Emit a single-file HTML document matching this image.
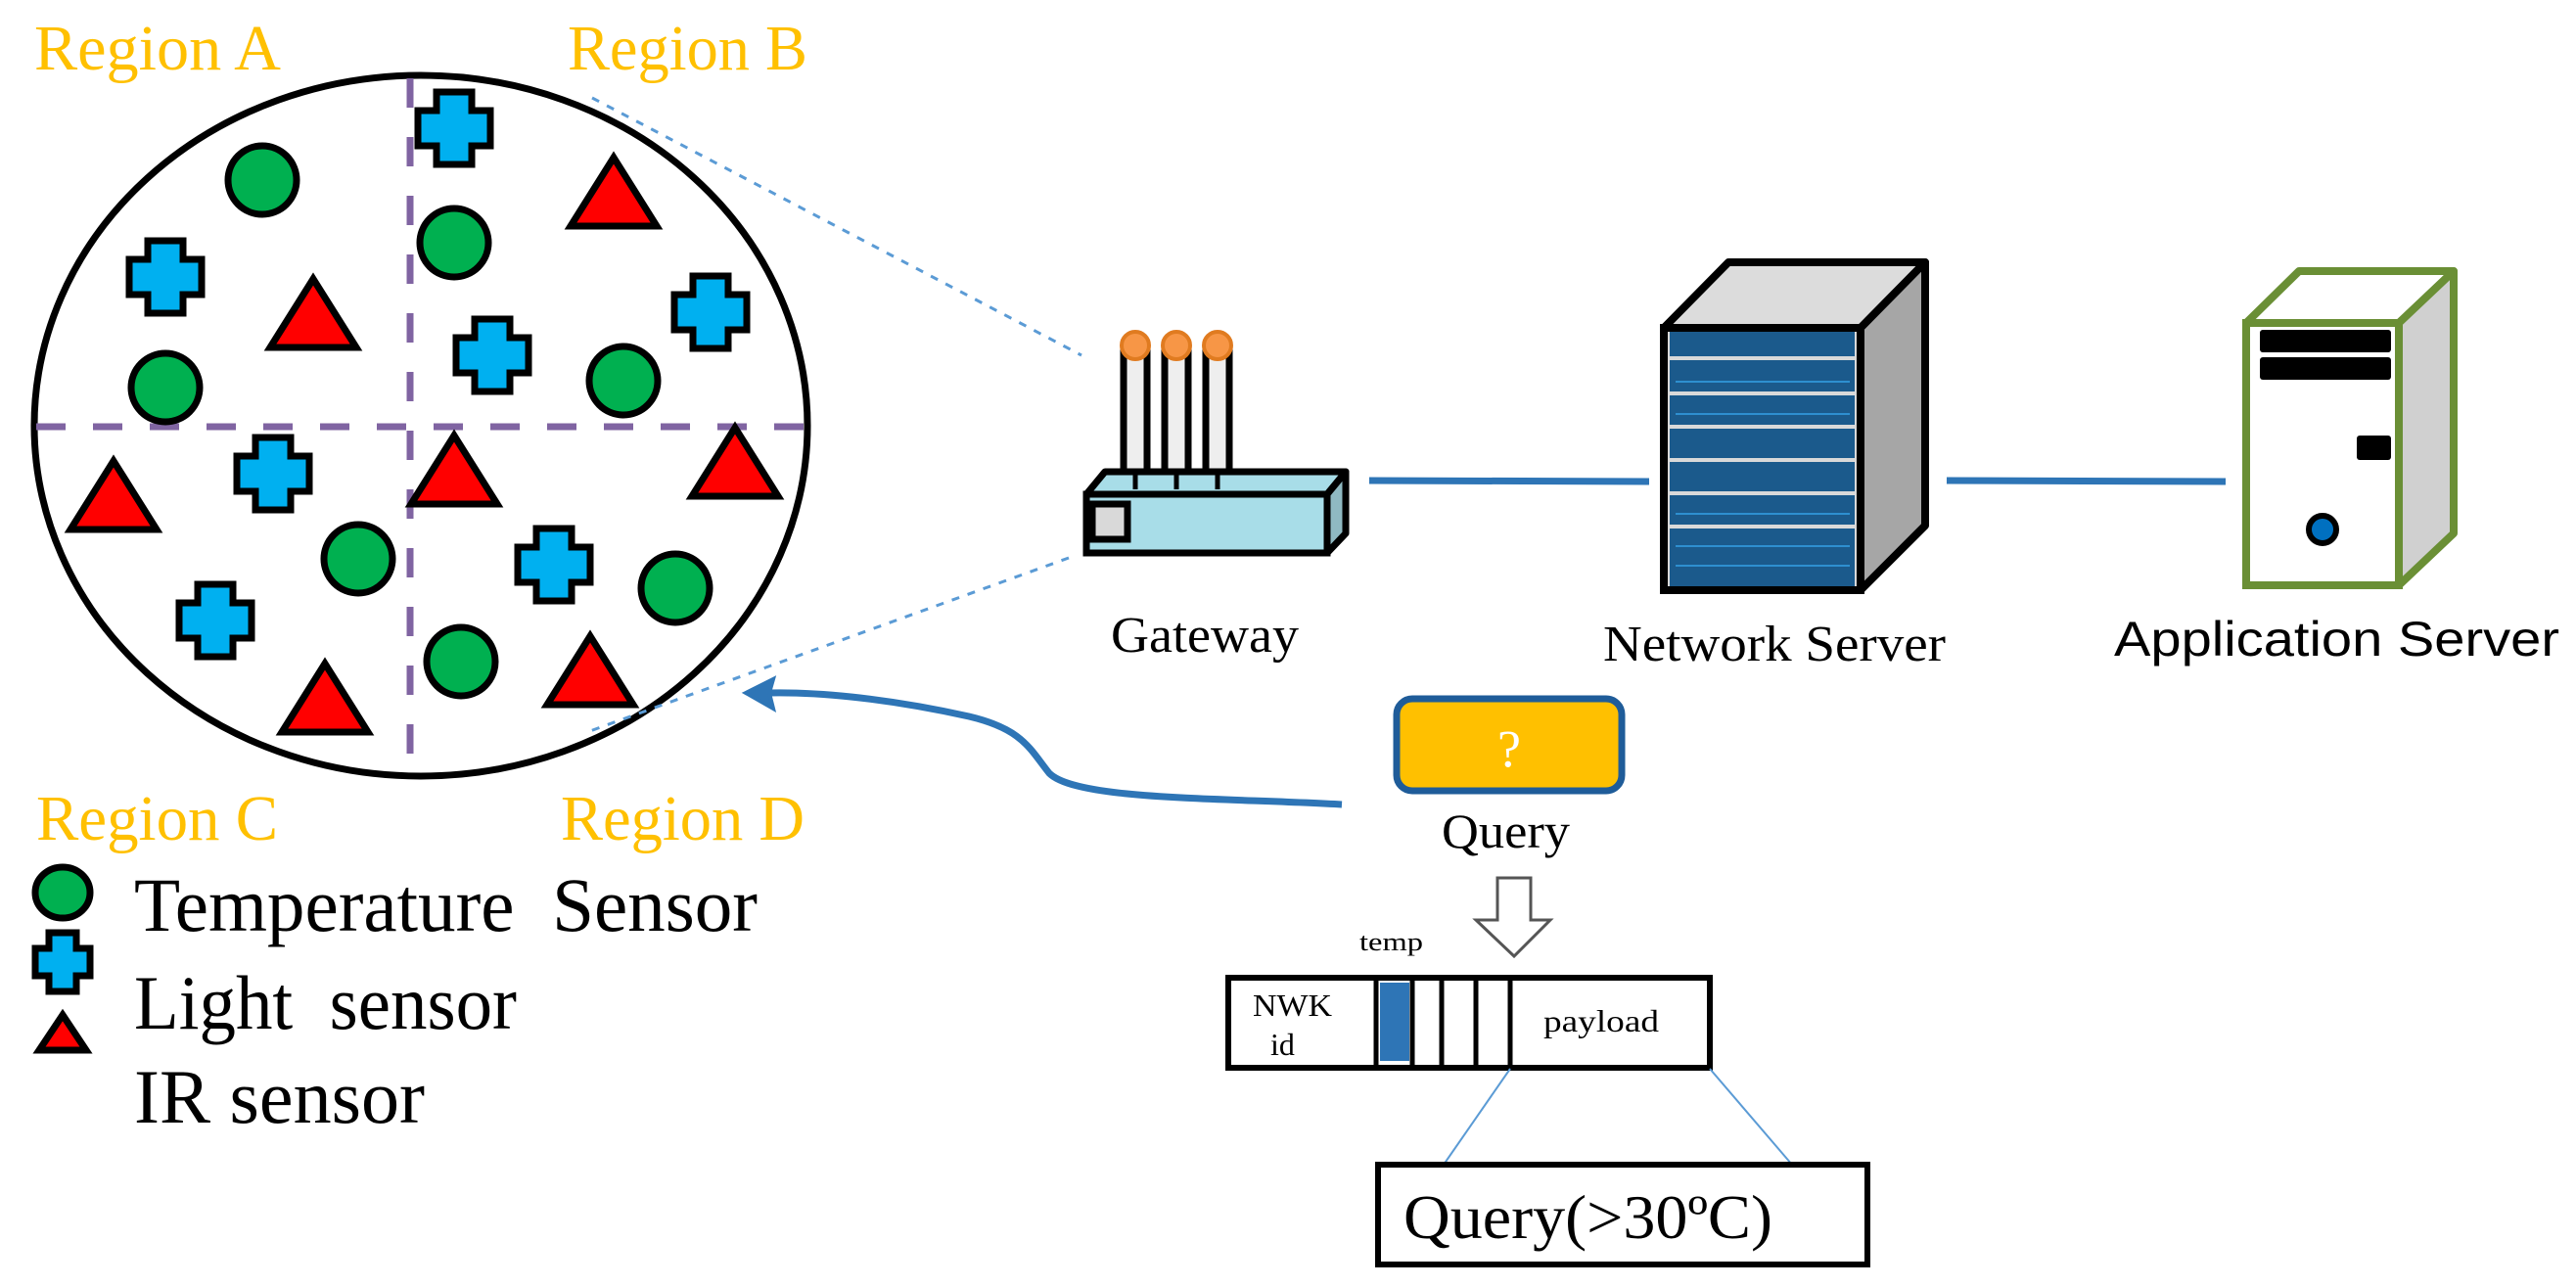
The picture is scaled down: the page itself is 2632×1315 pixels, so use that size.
<!DOCTYPE html>
<html><head><meta charset="utf-8"><style>
html,body{margin:0;padding:0;background:#fff;}
svg{display:block;}
.t{font-family:"Liberation Serif",serif;}
.s{font-family:"Liberation Sans",sans-serif;}
</style></head><body>
<svg width="2632" height="1315" viewBox="0 0 2632 1315" xmlns="http://www.w3.org/2000/svg">
<defs>
<g id="pl"><path d="M-18,-37 H18 V-18 H37 V18 H18 V37 H-18 V18 H-37 V-18 H-18 Z" fill="#00b0f0" stroke="#000" stroke-width="7"/></g>
<g id="tr"><path d="M0,-36 L44,34 H-44 Z" fill="#ff0000" stroke="#000" stroke-width="7" stroke-linejoin="miter"/></g>
<g id="ci"><circle r="35" fill="#00b050" stroke="#000" stroke-width="7"/></g>
</defs>

<text x="35" y="71" class="t" font-size="66" fill="#ffc000" textLength="252" lengthAdjust="spacingAndGlyphs">Region A</text>
<text x="580" y="71" class="t" font-size="66" fill="#ffc000" textLength="245" lengthAdjust="spacingAndGlyphs">Region B</text>
<text x="37" y="858" class="t" font-size="66" fill="#ffc000" textLength="247" lengthAdjust="spacingAndGlyphs">Region C</text>
<text x="573" y="858" class="t" font-size="66" fill="#ffc000" textLength="249" lengthAdjust="spacingAndGlyphs">Region D</text>

<ellipse cx="430" cy="435" rx="395" ry="358" fill="#fff" stroke="#000" stroke-width="7"/>
<line x1="419" y1="80" x2="419" y2="792" stroke="#8064a2" stroke-width="7" stroke-dasharray="30,30"/>
<line x1="37" y1="436" x2="824" y2="436" stroke="#8064a2" stroke-width="7" stroke-dasharray="30,28"/>

<use href="#ci" x="268" y="184"/><use href="#ci" x="464" y="248"/><use href="#ci" x="169" y="396"/>
<use href="#ci" x="637" y="389"/><use href="#ci" x="366" y="571"/><use href="#ci" x="690" y="601"/>
<use href="#ci" x="471" y="676"/>
<use href="#pl" x="464" y="131"/><use href="#pl" x="169" y="283"/><use href="#pl" x="726" y="319"/>
<use href="#pl" x="503" y="363"/><use href="#pl" x="279" y="484"/><use href="#pl" x="220" y="634"/>
<use href="#pl" x="566" y="577"/>
<use href="#tr" x="627" y="197"/><use href="#tr" x="320" y="321"/><use href="#tr" x="116" y="507"/>
<use href="#tr" x="464" y="481"/><use href="#tr" x="751" y="473"/><use href="#tr" x="332" y="714"/>
<use href="#tr" x="603" y="686"/>

<line x1="605" y1="100" x2="1105" y2="363" stroke="#5b9bd5" stroke-width="3" stroke-dasharray="8,9"/>
<line x1="1092" y1="570" x2="600" y2="748" stroke="#5b9bd5" stroke-width="3" stroke-dasharray="8,9"/>

<path d="M1371,822 C1250,815 1100,818 1072,790 C1052,765 1045,745 990,732 C900,712 830,707 785,708" fill="none" stroke="#2e75b6" stroke-width="7"/>
<path d="M762,708 L790,694 L786,708 L790,724 Z" fill="#2e75b6" stroke="#2e75b6" stroke-width="4"/>

<ellipse cx="64" cy="912" rx="28" ry="26" fill="#00b050" stroke="#000" stroke-width="7"/>
<path d="M-14,-30 H14 V-14 H28 V14 H14 V30 H-14 V14 H-28 V-14 H-14 Z" transform="translate(64,983)" fill="#00b0f0" stroke="#000" stroke-width="7"/>
<path d="M64,1037 L88,1073 H40 Z" fill="#ff0000" stroke="#000" stroke-width="7"/>
<text x="137" y="951" class="t" font-size="78" fill="#000" xml:space="preserve" textLength="637" lengthAdjust="spacingAndGlyphs">Temperature  Sensor</text>
<text x="137" y="1051" class="t" font-size="78" fill="#000" xml:space="preserve" textLength="391" lengthAdjust="spacingAndGlyphs">Light  sensor</text>
<text x="137" y="1147" class="t" font-size="78" fill="#000" textLength="297" lengthAdjust="spacingAndGlyphs">IR sensor</text>

<g stroke="#000" stroke-width="7">
<rect x="1148" y="360" width="24" height="135" fill="#eee"/>
<rect x="1190" y="360" width="24" height="135" fill="#eee"/>
<rect x="1232" y="360" width="24" height="135" fill="#eee"/>
</g>
<circle cx="1160" cy="353" r="14" fill="#f79646" stroke="#e07b20" stroke-width="4"/>
<circle cx="1202" cy="353" r="14" fill="#f79646" stroke="#e07b20" stroke-width="4"/>
<circle cx="1244" cy="353" r="14" fill="#f79646" stroke="#e07b20" stroke-width="4"/>
<path d="M1110,505 L1129,482 H1375 L1356,505 Z" fill="#a8dde8" stroke="#000" stroke-width="7" stroke-linejoin="round"/>
<path d="M1356,505 L1375,482 V545 L1356,565 Z" fill="#8fb9c2" stroke="#000" stroke-width="7" stroke-linejoin="round"/>
<rect x="1110" y="505" width="246" height="60" fill="#a8dde8" stroke="#000" stroke-width="7"/>
<g stroke="#000" stroke-width="5"><line x1="1160" y1="480" x2="1160" y2="500"/><line x1="1202" y1="480" x2="1202" y2="500"/><line x1="1244" y1="480" x2="1244" y2="500"/></g>
<rect x="1116" y="515" width="36" height="36" fill="#d9d9d9" stroke="#000" stroke-width="7"/>
<text x="1135" y="666" class="t" font-size="52" fill="#000" textLength="192" lengthAdjust="spacingAndGlyphs">Gateway</text>

<line x1="1399" y1="491" x2="1685" y2="492" stroke="#2e75b6" stroke-width="7"/>

<path d="M1700,335 L1766,268 H1967 L1901,335 Z" fill="#dcdcdc" stroke="#000" stroke-width="8" stroke-linejoin="round"/>
<path d="M1901,335 L1967,268 V537 L1901,603 Z" fill="#a6a6a6" stroke="#000" stroke-width="8" stroke-linejoin="round"/>
<rect x="1700" y="335" width="201" height="268" fill="#d9d9d9" stroke="#000" stroke-width="8"/>
<g fill="#1b5a8c">
<rect x="1706" y="339" width="189" height="25"/>
<rect x="1706" y="368" width="189" height="32"/>
<rect x="1706" y="404" width="189" height="30"/>
<rect x="1706" y="438" width="189" height="30"/>
<rect x="1706" y="472" width="189" height="30"/>
<rect x="1706" y="506" width="189" height="30"/>
<rect x="1706" y="540" width="189" height="59"/>
</g>
<g stroke="#2e8fd0" stroke-width="2">
<line x1="1712" y1="390" x2="1890" y2="390"/><line x1="1712" y1="423" x2="1890" y2="423"/>
<line x1="1712" y1="525" x2="1890" y2="525"/><line x1="1712" y1="558" x2="1890" y2="558"/><line x1="1712" y1="578" x2="1890" y2="578"/>
</g>
<text x="1638" y="675" class="t" font-size="52" fill="#000" textLength="350" lengthAdjust="spacingAndGlyphs">Network Server</text>

<line x1="1989" y1="491" x2="2274" y2="492" stroke="#2e75b6" stroke-width="7"/>

<path d="M2295,330 L2349,277 H2507 L2451,330 Z" fill="#fff" stroke="#6a8f35" stroke-width="8" stroke-linejoin="round"/>
<path d="M2451,330 L2507,277 V545 L2451,598 Z" fill="#d0d0d0" stroke="#6a8f35" stroke-width="8" stroke-linejoin="round"/>
<rect x="2295" y="330" width="156" height="268" fill="#fff" stroke="#6a8f35" stroke-width="8"/>
<rect x="2309" y="337" width="134" height="23" rx="3" fill="#000"/>
<rect x="2309" y="365" width="134" height="23" rx="3" fill="#000"/>
<rect x="2408" y="445" width="35" height="25" rx="3" fill="#000"/>
<circle cx="2373" cy="541" r="14" fill="#0070c0" stroke="#000" stroke-width="6"/>
<text x="2160" y="670" class="s" font-size="50" fill="#000" textLength="455" lengthAdjust="spacingAndGlyphs">Application Server</text>

<rect x="1427" y="714" width="230" height="94" rx="16" fill="#ffc000" stroke="#1f5c99" stroke-width="7"/>
<text x="1542" y="783" class="t" font-size="54" fill="#fff" text-anchor="middle">?</text>
<text x="1473" y="866" class="t" font-size="50" fill="#000" textLength="131" lengthAdjust="spacingAndGlyphs">Query</text>
<path d="M1530,897 H1564 V940 H1584 L1547,977 L1508,940 H1530 Z" fill="#fff" stroke="#555" stroke-width="3"/>
<text x="1389" y="971" class="t" font-size="26" fill="#000" textLength="65" lengthAdjust="spacingAndGlyphs">temp</text>

<rect x="1255" y="999" width="492" height="92" fill="#fff" stroke="#000" stroke-width="6"/>
<rect x="1410" y="1004" width="30" height="80" fill="#2e75b6"/>
<g stroke="#000" stroke-width="5">
<line x1="1406" y1="999" x2="1406" y2="1091"/><line x1="1443" y1="999" x2="1443" y2="1091"/>
<line x1="1473" y1="999" x2="1473" y2="1091"/><line x1="1508" y1="999" x2="1508" y2="1091"/>
<line x1="1543" y1="999" x2="1543" y2="1091"/>
</g>
<text x="1280" y="1038" class="t" font-size="32" fill="#000" textLength="81" lengthAdjust="spacingAndGlyphs">NWK</text>
<text x="1298" y="1078" class="t" font-size="32" fill="#000">id</text>
<text x="1577" y="1054" class="t" font-size="32" fill="#000" textLength="118" lengthAdjust="spacingAndGlyphs">payload</text>
<line x1="1543" y1="1092" x2="1475" y2="1190" stroke="#5b9bd5" stroke-width="2"/>
<line x1="1747" y1="1092" x2="1831" y2="1190" stroke="#5b9bd5" stroke-width="2"/>
<rect x="1408" y="1190" width="500" height="102" fill="#fff" stroke="#000" stroke-width="6"/>
<text x="1434" y="1265" class="t" font-size="64" fill="#000" textLength="377" lengthAdjust="spacingAndGlyphs">Query(&gt;30ºC)</text>
</svg>
</body></html>
